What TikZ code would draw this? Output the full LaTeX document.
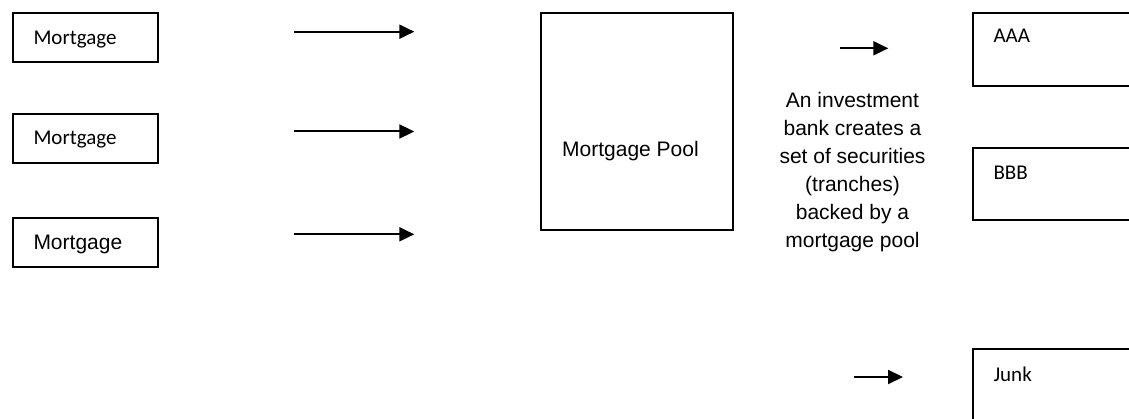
\documentclass[tikz,border=0pt]{standalone}
\usepackage{fontspec}
\setmainfont{Liberation Sans}
\newfontfamily\calfont{Carlito}
\newfontfamily\arifont{Liberation Sans}
\usetikzlibrary{arrows.meta}
\begin{document}
\begin{tikzpicture}[x=1pt,y=-1pt,
  box/.style={draw=black, line width=1.8pt, inner sep=0pt},
  cal/.style={font=\calfont\fontsize{21}{25}\selectfont, inner sep=0pt, anchor=base west},
  ari/.style={font=\arifont\fontsize{21}{25}\selectfont, inner sep=0pt, anchor=base west},
  arr/.style={line width=2pt, -{Triangle[length=15pt,width=14pt]}}]
\useasboundingbox (0,0) rectangle (1129,419);
\clip (0,0) rectangle (1129,419);
% mortgage boxes
\node[box, minimum width=145pt, minimum height=48.7pt] (m1) at (85.2,37.65) {};
\node[box, minimum width=145pt, minimum height=49pt] (m2) at (85.2,138.5) {};
\node[box, minimum width=145pt, minimum height=49pt] (m3) at (85.2,242.5) {};
\node[cal] (m1t) at (33.3,44.3) {Mortgage};
\node[cal] (m2t) at (33.3,145) {Mortgage};
\node[ari] (m3t) at (33.3,249.3) {Mortgage};
% arrows
\coordinate (a1s) at (294.3,31.7); \coordinate (a1e) at (414.3,31.7);
\coordinate (a2s) at (294.3,131.5); \coordinate (a2e) at (414.3,131.5);
\coordinate (a3s) at (294.3,234.3); \coordinate (a3e) at (414.3,234.3);
\draw[arr] (a1s) -- (a1e);
\draw[arr] (a2s) -- (a2e);
\draw[arr] (a3s) -- (a3e);
% pool
\node[box, minimum width=192pt, minimum height=217pt] (pool) at (637,121.5) {};
\node[ari] (poolt) at (562,156.7) {Mortgage Pool};
% description
\node[font=\arifont\fontsize{21}{28}\selectfont, align=center, inner sep=0pt, anchor=north] (desc) at (852.5,92)
  {An investment\\bank creates a\\set of securities\\(tranches)\\backed by a\\mortgage pool};
\coordinate (b1s) at (840,48.3); \coordinate (b1e) at (888.3,48.3);
\coordinate (b2s) at (854,377); \coordinate (b2e) at (903,377);
\draw[arr] (b1s) -- (b1e);
\draw[arr] (b2s) -- (b2e);
% tranches
\node[box, minimum width=227pt, minimum height=73pt] (aaa) at (1086.5,49.5) {};
\node[box, minimum width=227pt, minimum height=72pt] (bbb) at (1086.5,184) {};
\node[box, minimum width=227pt, minimum height=81pt] (junk) at (1086.5,389.5) {};
\node[cal] (aaat) at (993.3,43) {AAA};
\node[cal] (bbbt) at (993.3,180) {BBB};
\node[cal] (junkt) at (993.3,381.5) {Junk};
\end{tikzpicture}
\end{document}
